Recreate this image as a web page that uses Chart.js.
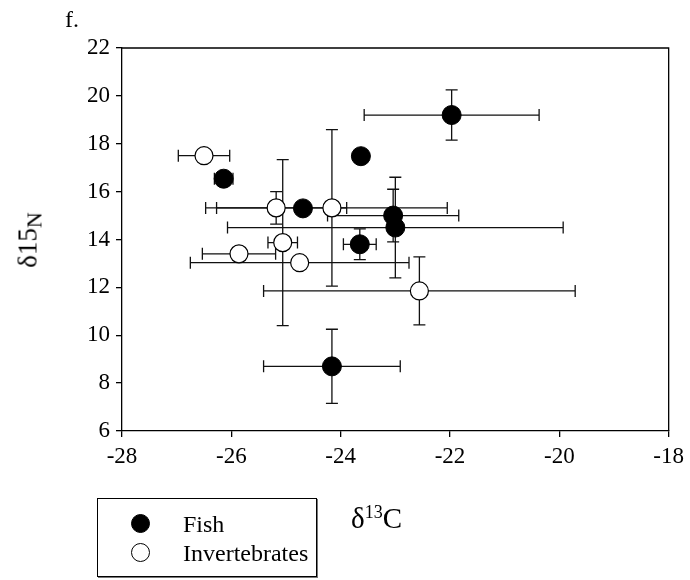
<!DOCTYPE html>
<html>
<head>
<meta charset="utf-8">
<script src="https://cdn.jsdelivr.net/npm/chart.js@4.4.1/dist/chart.umd.min.js"></script>
<style>
  body { margin: 0; background: #fff; }
  .wrap { position: relative; width: 690px; height: 580px; font-family: 'Liberation Serif', 'Times New Roman', serif; color: #000; }
  canvas { position: absolute; left: 0; top: 0; }
  .lbl { position: absolute; white-space: nowrap; line-height: 1; }
  .panel { left: 65px; top: 7px; font-size: 24px; }
  .xtitle { left: 351px; top: 504px; font-size: 29px; }
  .xtitle sup { font-size: 18px; vertical-align: 10px; line-height: 0; }
  .ytitle { left: 28px; top: 240px; font-size: 27px; transform: translate(-50%, -50%) rotate(-90deg); }
  .ytitle sub { font-size: 22px; vertical-align: -5px; line-height: 0; }
  .legend { position: absolute; left: 97px; top: 498px; width: 218px; height: 77px; border: 1px solid #000; box-shadow: 1px 1px 0 #777; }
  .item { position: absolute; left: 0; font-size: 24px; line-height: 1; }
  .dot { position: absolute; width: 19px; height: 19px; border-radius: 50%; border: 1px solid #000; box-sizing: border-box; }
</style>
</head>
<body>
<div class="wrap">
  <canvas id="chart" width="690" height="580"></canvas>
  <div class="lbl panel">f.</div>
  <div class="lbl xtitle">δ<sup>13</sup>C</div>
  <div class="lbl ytitle">δ15<sub>N</sub></div>
  <div class="legend">
    <span class="dot" style="left:33px;top:15px;background:#000"></span>
    <span class="item" style="left:85px;top:13px">Fish</span>
    <span class="dot" style="left:33px;top:44px;background:#fff"></span>
    <span class="item" style="left:85px;top:42px">Invertebrates</span>
  </div>
</div>
<script>
// axis ticks
const xTicks = [-28, -26, -24, -22, -20, -18];
const yTicks = [6, 8, 10, 12, 14, 16, 18, 20, 22];

// fish: mean d13C, d15N and their error (+/-)
const fishC = [-21.97, -23.63, -26.14, -24.69, -23.04, -23.0, -23.65, -24.16];
const fishN = [19.2, 17.48, 16.54, 15.3, 15.0, 14.5, 13.8, 8.7];
const fishCErr = [1.6, 0, 0.17, 0, 1.2, 3.07, 0.3, 1.25];
const fishNErr = [1.05, 0, 0, 0, 1.1, 2.1, 0.64, 1.55];

// invertebrates
const invC = [-26.5, -25.18, -24.16, -25.06, -25.86, -24.75, -22.56];
const invN = [17.5, 15.32, 15.32, 13.87, 13.4, 13.03, 11.85];
const invCErr = [0.47, 1.29, 2.11, 0.27, 0.67, 2.0, 2.85];
const invNErr = [0, 0.68, 3.27, 3.47, 0, 0, 1.42];

let toPoints = (xs, ys) => xs.map((x, i) => ({ x: x, y: ys[i] }));

// error bars drawn under the markers, through the chart scales
const errorBars = {
    id: 'errorBars',
    beforeDatasetsDraw(chart) {
        const ctx = chart.ctx;
        const xs = chart.scales.x, ys = chart.scales.y;
        const cap = 6;
        ctx.save();
        ctx.strokeStyle = '#111';
        ctx.lineWidth = 1.3;
        chart.data.datasets.forEach(ds => {
            ds.data.forEach((p, i) => {
                const px = xs.getPixelForValue(p.x), py = ys.getPixelForValue(p.y);
                const ex = ds.xErr[i], ey = ds.yErr[i];
                ctx.beginPath();
                if (ex > 0) {
                    const l = xs.getPixelForValue(p.x - ex), r = xs.getPixelForValue(p.x + ex);
                    ctx.moveTo(l, py); ctx.lineTo(r, py);
                    ctx.moveTo(l, py - cap); ctx.lineTo(l, py + cap);
                    ctx.moveTo(r, py - cap); ctx.lineTo(r, py + cap);
                }
                if (ey > 0) {
                    const t = ys.getPixelForValue(p.y + ey), b = ys.getPixelForValue(p.y - ey);
                    ctx.moveTo(px, t); ctx.lineTo(px, b);
                    ctx.moveTo(px - cap, t); ctx.lineTo(px + cap, t);
                    ctx.moveTo(px - cap, b); ctx.lineTo(px + cap, b);
                }
                ctx.stroke();
            });
        });
        ctx.restore();
    },
    afterDraw(chart) {
        // top and right frame lines
        const a = chart.chartArea, ctx = chart.ctx;
        ctx.save();
        ctx.strokeStyle = '#000';
        ctx.lineWidth = 1.3;
        ctx.beginPath();
        ctx.moveTo(a.left, a.top); ctx.lineTo(a.right, a.top); ctx.lineTo(a.right, a.bottom);
        ctx.stroke();
        ctx.restore();
    }
};

const tickFont = { family: "'Liberation Serif', 'Times New Roman', serif", size: 23 };

new Chart(document.getElementById('chart'), {
    type: 'scatter',
    data: {
        datasets: [
            {
                label: 'Fish',
                data: toPoints(fishC, fishN),
                xErr: fishCErr, yErr: fishNErr,
                pointRadius: 9.5, pointBackgroundColor: '#000', pointBorderColor: '#000', pointBorderWidth: 1
            },
            {
                label: 'Invertebrates',
                data: toPoints(invC, invN),
                xErr: invCErr, yErr: invNErr,
                pointRadius: 9, pointBackgroundColor: '#fff', pointBorderColor: '#000', pointBorderWidth: 1.2
            }
        ]
    },
    options: {
        responsive: false,
        animation: false,
        devicePixelRatio: 1,
        layout: { padding: { top: 48, right: 20, left: 0, bottom: 0 } },
        plugins: { legend: { display: false }, tooltip: { enabled: false } },
        scales: {
            x: {
                type: 'linear', min: -28, max: -18,
                afterBuildTicks: s => { s.ticks = xTicks.map(v => ({ value: v })); },
                afterFit: s => { s.height = 149; },
                ticks: { color: '#000', font: tickFont, padding: 6, maxRotation: 0 },
                grid: { drawOnChartArea: false, color: '#000', tickLength: 6, lineWidth: 1.3 },
                border: { color: '#000', width: 1.3 }
            },
            y: {
                type: 'linear', min: 6, max: 22,
                afterBuildTicks: s => { s.ticks = yTicks.map(v => ({ value: v })); },
                afterFit: s => { s.width = 122; },
                ticks: { color: '#000', font: tickFont, padding: 6 },
                grid: { drawOnChartArea: false, color: '#000', tickLength: 6, lineWidth: 1.3 },
                border: { color: '#000', width: 1.3 }
            }
        }
    },
    plugins: [errorBars]
});
</script>
</body>
</html>
